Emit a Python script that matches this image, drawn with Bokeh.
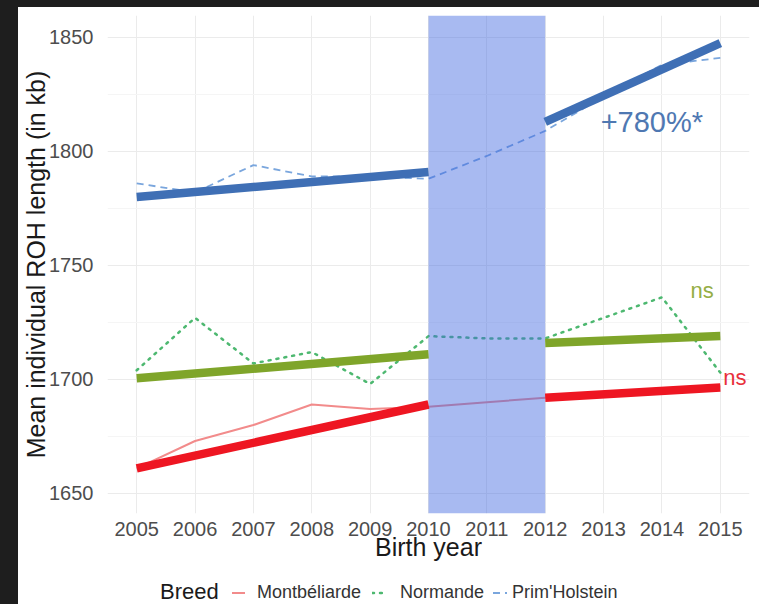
from bokeh.plotting import figure
from bokeh.models import Range1d, FixedTicker, Label, Div, Spacer
from bokeh.layouts import column, row
from bokeh.embed import file_html
from bokeh.resources import INLINE

# Yearly mean individual ROH length (kb) per breed
years = [2005, 2006, 2007, 2008, 2009, 2010, 2011, 2012, 2013, 2014, 2015]
montbeliarde = [1661, 1673, 1680, 1689, 1687, 1688, 1690, 1692, 1693, 1695, 1697]
normande = [1704, 1727, 1707, 1712, 1698, 1719, 1718, 1718, 1727, 1736, 1703]
prim_holstein = [1786, 1782, 1794, 1789, 1789, 1788, 1798, 1809, 1824, 1838, 1841]

# Linear trends fitted before and after the 2010-2012 transition
trend_years_before = [2005, 2010]
trend_years_after = [2012, 2015]
montbeliarde_trend_before = [1661, 1689]
montbeliarde_trend_after = [1692, 1696.5]
normande_trend_before = [1700.5, 1711]
normande_trend_after = [1716, 1719]
holstein_trend_before = [1780, 1791]
holstein_trend_after = [1813, 1847.5]

breeds = ["Montbéliarde", "Normande", "Prim'Holstein"]
period_start, period_end = 2010, 2012
y_ticks = [1650, 1700, 1750, 1800, 1850]
y_minor = [1675, 1725, 1775, 1825]

FONT = "Liberation Sans"
DARK = "#1E1E1E"
Y0, Y1 = 1641.2, 1859.6
MEAN_STYLE = {
    "Montbéliarde": dict(line_color="#F28B8B", line_width=2),
    "Normande": dict(line_color="#4DB870", line_width=2.5, line_dash="2 6",
                     line_cap="round"),
    "Prim'Holstein": dict(line_color="#7AA6DD", line_width=1.8, line_dash="7 5"),
}

p = figure(
    width=741, height=571,
    x_range=Range1d(2004.5, 2015.5), y_range=Range1d(Y0, Y1),
    output_backend="svg", toolbar_location=None,
    min_border_left=89, min_border_right=10,
    min_border_top=8, min_border_bottom=65,
    background_fill_color="white", border_fill_color="white",
    outline_line_color=None,
    styles={"background-color": "white"},
)

# axes
p.xaxis.ticker = FixedTicker(ticks=years)
p.yaxis.ticker = FixedTicker(ticks=y_ticks, minor_ticks=y_minor)
for ax in (p.xaxis[0], p.yaxis[0]):
    ax.axis_line_color = None
    ax.major_tick_line_color = None
    ax.minor_tick_line_color = None
    ax.major_tick_out = 0
    ax.major_tick_in = 0
    ax.major_label_text_font = FONT
    ax.major_label_text_font_size = "20px"
    ax.major_label_text_color = "#4D4D4D"
    ax.axis_label_text_font = FONT
    ax.axis_label_text_font_size = "25px"
    ax.axis_label_text_font_style = "normal"
    ax.axis_label_text_color = "#1A1A1A"
p.xaxis.axis_label = "Birth year"
p.yaxis.axis_label = "Mean individual ROH length (in kb)"
p.xaxis.major_label_standoff = 8
p.xaxis.axis_label_standoff = -6
p.yaxis.major_label_standoff = 10
p.yaxis.axis_label_standoff = -4

p.xgrid.grid_line_color = "#EBEBEB"
p.ygrid.grid_line_color = "#EBEBEB"
p.ygrid.minor_grid_line_color = "#F5F5F5"

# yearly means
for vals, name in zip([montbeliarde, normande, prim_holstein], breeds):
    p.line(years, vals, **MEAN_STYLE[name])

# transition period
p.quad(left=[period_start], right=[period_end], bottom=[Y0], top=[Y1],
       fill_color="#4169E1", fill_alpha=0.46, line_color=None)

# trends
for xs, ys, c in [
    (trend_years_before, montbeliarde_trend_before, "#EE1622"),
    (trend_years_after, montbeliarde_trend_after, "#EE1622"),
    (trend_years_before, normande_trend_before, "#7FA52A"),
    (trend_years_after, normande_trend_after, "#7FA52A"),
    (trend_years_before, holstein_trend_before, "#3F6FB5"),
    (trend_years_after, holstein_trend_after, "#3F6FB5"),
]:
    p.line(xs, ys, line_color=c, line_width=8.5)

# significance labels
p.add_layout(Label(x=2012.95, y=1812.7, text="+780%*", text_font=FONT,
                   text_font_size="29px", text_color="#4F78B2",
                   text_baseline="middle", text_align="left"))
p.add_layout(Label(x=2014.49, y=1739, text="ns", text_font=FONT,
                   text_font_size="22px", text_color="#95AE45",
                   text_baseline="middle", text_align="left"))
p.add_layout(Label(x=2015.05, y=1700.9, text="ns", text_font=FONT,
                   text_font_size="22px", text_color="#E8303B",
                   text_baseline="middle", text_align="left"))


# legend row under the plot
def key(style, width):
    dash = style.get("line_dash", "")
    dash_attr = f' stroke-dasharray="{dash}"' if dash else ""
    cap = style.get("line_cap", "butt")
    return (f'<svg width="{width}" height="6" style="display:block">'
            f'<line x1="0" y1="3" x2="{width}" y2="3" stroke="{style["line_color"]}" '
            f'stroke-width="{style["line_width"]}" stroke-linecap="{cap}"{dash_attr}/></svg>')


key_left = {"Montbéliarde": 214, "Normande": 354, "Prim'Holstein": 475}
key_width = {"Montbéliarde": 13, "Normande": 11, "Prim'Holstein": 14}
text_left = {"Montbéliarde": 239, "Normande": 382, "Prim'Holstein": 494}

parts = [f'<span style="position:absolute;left:142px;top:0;font-size:22px;'
         f'color:#1A1A1A;line-height:28px">Breed</span>']
for name in breeds:
    parts.append(f'<span style="position:absolute;left:{key_left[name]}px;top:12px">'
                 f'{key(MEAN_STYLE[name], key_width[name])}</span>')
    parts.append(f'<span style="position:absolute;left:{text_left[name]}px;top:0;'
                 f'font-size:18px;color:#333333;line-height:28px">{name}</span>')
legend_html = (f'<div style="position:relative;width:741px;height:26px;'
               f'font-family:\'{FONT}\';background:white">' + "".join(parts) + "</div>")
legend_div = Div(text=legend_html, width=741, height=26,
                 styles={"background-color": "white", "margin": "0"})

# dark frame around the chart
left_strip = Spacer(width=18, height=604, styles={"background-color": DARK})
top_strip = Spacer(width=741, height=7, styles={"background-color": DARK})

layout = row(left_strip, column(top_strip, p, legend_div, spacing=0), spacing=0)

open("out.html", "w").write(file_html(layout, INLINE))
